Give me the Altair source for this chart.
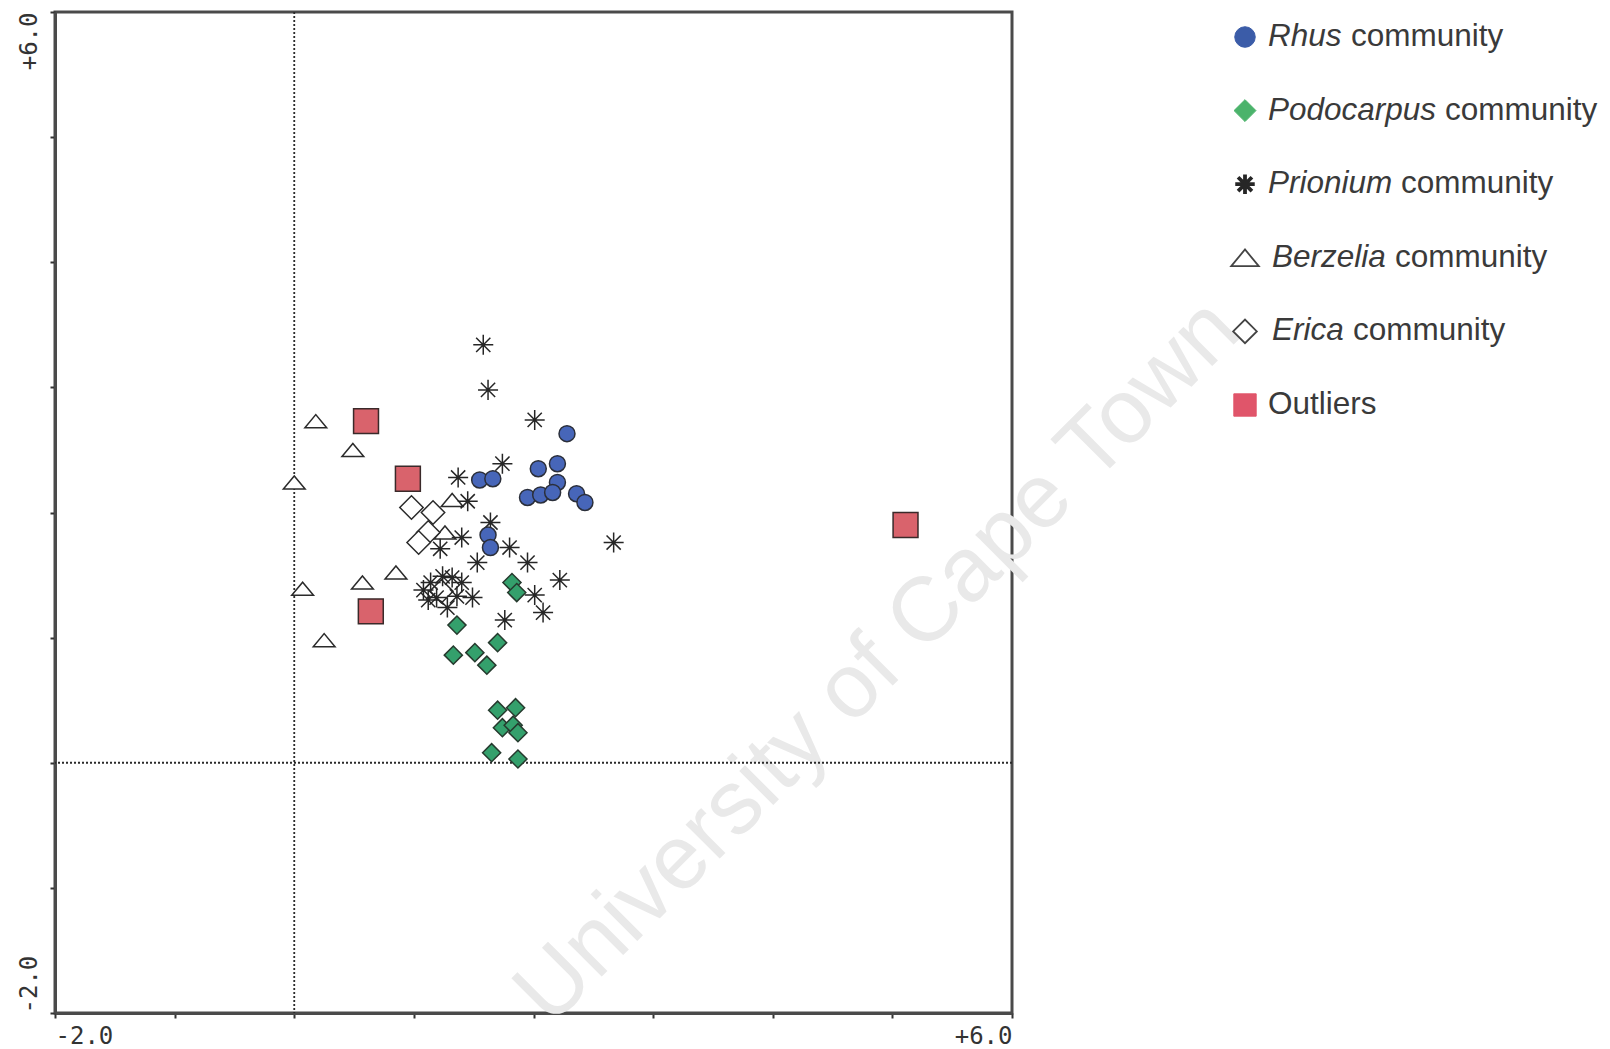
import altair as alt
import pandas as pd

# ---------------- data (ordination scores) ----------------
communities = ["Rhus", "Podocarpus", "Prionium", "Berzelia", "Erica", "Outliers"]
genus_labels = ["Rhus", "Podocarpus", "Prionium", "Berzelia", "Erica", ""]
rest_labels = ["community", "community", "community", "community", "community", "Outliers"]

rhus_x = [2.28, 2.20, 2.04, 1.55, 1.66, 2.20, 1.95, 2.06, 2.16, 2.36, 2.43, 1.62, 1.64]
rhus_y = [2.63, 2.39, 2.35, 2.26, 2.27, 2.24, 2.12, 2.14, 2.16, 2.15, 2.08, 1.82, 1.72]

podo_x = [1.82, 1.86, 1.36, 1.70, 1.33, 1.51, 1.61, 1.70, 1.85, 1.74, 1.83, 1.87, 1.65, 1.87]
podo_y = [1.44, 1.36, 1.10, 0.96, 0.86, 0.88, 0.78, 0.42, 0.44, 0.28, 0.30, 0.24, 0.08, 0.03]

prio_x = [1.58, 1.62, 2.01, 1.74, 1.37, 1.45, 1.64, 1.40, 1.22, 1.80, 1.53, 1.95, 2.22,
          2.01, 2.08, 1.76, 2.67, 1.08, 1.14, 1.24, 1.32, 1.40, 1.49, 1.28, 1.19, 1.36, 1.12]
prio_y = [3.34, 2.98, 2.74, 2.39, 2.28, 2.09, 1.92, 1.80, 1.71, 1.72, 1.60, 1.60, 1.46,
          1.34, 1.20, 1.14, 1.76, 1.38, 1.44, 1.49, 1.48, 1.44, 1.32, 1.24, 1.32, 1.33, 1.30]

berz_x = [0.18, 0.49, 0.00, 1.32, 1.26, 0.85, 0.57, 0.07, 0.25]
berz_y = [2.73, 2.50, 2.24, 2.10, 1.84, 1.52, 1.44, 1.39, 0.98]

eric_x = [0.98, 1.16, 1.12, 1.04, 1.23]
eric_y = [2.04, 2.00, 1.84, 1.76, 1.37]

out_x = [0.60, 0.95, 0.64, 5.11]
out_y = [2.73, 2.27, 1.21, 1.90]

axis_ticks = [-2, -1, 0, 1, 2, 3, 4, 5, 6]
tick_labels = {-2: "-2.0", 6: "+6.0"}
watermark = "University of Cape Town"

# ---------------- styles / layout ----------------
ASTER = "M0,-1L0,1M-1,0L1,0M-0.71,-0.71L0.71,0.71M-0.71,0.71L0.71,-0.71"
TRI = "M-1,0.6L1,0.6L0,-0.6Z"
DARK = "#2b2b2b"

STYLE = {
    "Rhus":       dict(shape="circle",  fill="#4766b9", stroke="#2b2f3a", sw=1.5, size=255,
                       lfill="#3b5ca8", lstroke="#3b5ca8", lsw=1, lsize=420),
    "Podocarpus": dict(shape="diamond", fill="#34a06c", stroke="#263a2e", sw=1.5, size=620,
                       lfill="#4bb36b", lstroke="#4bb36b", lsw=1, lsize=480),
    "Prionium":   dict(shape=ASTER,     fill="#262626", stroke="#262626", sw=3.8, size=600,
                       lfill="#262626", lstroke="#262626", lsw=3.8, lsize=380),
    "Berzelia":   dict(shape=TRI,       fill="#ffffff", stroke=DARK, sw=2.8, size=760,
                       lfill="#ffffff", lstroke="#444444", lsw=1.8, lsize=760),
    "Erica":      dict(shape="diamond", fill="#ffffff", stroke=DARK, sw=2.4, size=520,
                       lfill="#ffffff", lstroke="#444444", lsw=1.8, lsize=560),
    "Outliers":   dict(shape="square",  fill="#d9636c", stroke="#3a2a2a", sw=1.6, size=380,
                       lfill="#e0556a", lstroke="#e0556a", lsw=1, lsize=500),
}

W, H = 957, 1001
LEG_SYM_X = 1190
LEG_Y0 = 25
LEG_DY = 73.6
LEGEND_TXT_X = {"Rhus": 1213, "Podocarpus": 1213, "Prionium": 1213,
                "Berzelia": 1217, "Erica": 1217, "Outliers": 1213}
LEGEND_WORD_X = {"Rhus": 1296, "Podocarpus": 1390, "Prionium": 1346,
                 "Berzelia": 1340, "Erica": 1298, "Outliers": 1213}
TEXT_COLOR = "#3a3a3a"
LEG_FONT = "Liberation Sans"
LEG_SIZE = 31.5

# ---------------- build table ----------------
draw_order = [("Berzelia", berz_x, berz_y), ("Erica", eric_x, eric_y),
              ("Outliers", out_x, out_y), ("Prionium", prio_x, prio_y),
              ("Rhus", rhus_x, rhus_y), ("Podocarpus", podo_x, podo_y)]
rows = []
for name, xs, ys in draw_order:
    for a, b in zip(xs, ys):
        rows.append({"community": name, "x": a, "y": b})
pts = pd.DataFrame(rows)

label_expr = " : ".join(
    f"datum.value == {k} ? '{v}'" for k, v in tick_labels.items()) + " : ''"

axis_common = dict(title=None, grid=False, values=axis_ticks, labelExpr=label_expr,
                   labelFont="DejaVu Sans Mono", labelFontSize=24, labelColor="#333333",
                   domainColor="#4a4a4a", domainWidth=3, tickColor="#333333",
                   tickWidth=2, tickSize=5, labelOverlap=False)

x_enc = alt.X("x:Q", scale=alt.Scale(domain=[-2, 6], nice=False, zero=False),
              axis=alt.Axis(labelFlush=True, labelPadding=6, **axis_common))
y_enc = alt.Y("y:Q", scale=alt.Scale(domain=[-2, 6], nice=False, zero=False),
              axis=alt.Axis(labelAngle=270, labelFlush=False, labelPadding=14,
                            labelAlign={"expr": "datum.value == 6 ? 'right' : 'left'"},
                            labelBaseline="alphabetic", **axis_common))

zero_df = pd.DataFrame({"x": [0], "y": [0]})
vrule = alt.Chart(zero_df).mark_rule(color="#2a2a2a", strokeDash=[2, 2], strokeWidth=1.8).encode(x=x_enc)
hrule = alt.Chart(zero_df).mark_rule(color="#2a2a2a", strokeDash=[2, 2], strokeWidth=1.8).encode(y=y_enc)

wm = alt.Chart(pd.DataFrame({"t": [watermark]})).mark_text(
    angle=315, fontSize=91, font="Liberation Sans", color="#e9e9e9",
    align="center", baseline="middle").encode(
    x=alt.value(823), y=alt.value(650), text="t:N")

dom = communities
points = alt.Chart(pts).mark_point(filled=True, opacity=1).encode(
    x=x_enc, y=y_enc,
    shape=alt.Shape("community:N", scale=alt.Scale(domain=dom, range=[STYLE[c]["shape"] for c in dom]), legend=None),
    fill=alt.Fill("community:N", scale=alt.Scale(domain=dom, range=[STYLE[c]["fill"] for c in dom]), legend=None),
    stroke=alt.Stroke("community:N", scale=alt.Scale(domain=dom, range=[STYLE[c]["stroke"] for c in dom]), legend=None),
    strokeWidth=alt.StrokeWidth("community:N", scale=alt.Scale(domain=dom, range=[STYLE[c]["sw"] for c in dom]), legend=None),
    size=alt.Size("community:N", scale=alt.Scale(domain=dom, range=[STYLE[c]["size"] for c in dom]), legend=None),
)

layers = [wm, vrule, hrule, points]

for i, (c, g, r) in enumerate(zip(communities, genus_labels, rest_labels)):
    st = STYLE[c]
    ly = LEG_Y0 + i * LEG_DY
    d = pd.DataFrame({"community": [c], "genus": [g], "rest": [r]})
    sym = alt.Chart(d).mark_point(
        filled=True, opacity=1, shape=st["shape"], fill=st["lfill"], stroke=st["lstroke"],
        strokeWidth=st["lsw"], size=st["lsize"]).encode(
        x=alt.value(LEG_SYM_X), y=alt.value(ly))
    layers.append(sym)
    if g:
        gt = alt.Chart(d).mark_text(
            font=LEG_FONT, fontSize=LEG_SIZE, fontStyle="italic", align="left",
            baseline="middle", color=TEXT_COLOR).encode(
            x=alt.value(LEGEND_TXT_X[c]), y=alt.value(ly), text="genus:N")
        layers.append(gt)
    rt = alt.Chart(d).mark_text(
        font=LEG_FONT, fontSize=LEG_SIZE, align="left", baseline="middle",
        color=TEXT_COLOR).encode(
        x=alt.value(LEGEND_WORD_X[c]), y=alt.value(ly), text="rest:N")
    layers.append(rt)

chart = alt.layer(*layers).properties(
    width=W, height=H,
    padding={"left": 47, "top": 4, "right": 588, "bottom": 37},
    autosize=alt.AutoSizeParams(type="none"),
    background="#ffffff",
).configure_view(stroke="#4a4a4a", strokeWidth=3)

chart.save("out.html", embed_options={"renderer": "svg", "actions": False})
